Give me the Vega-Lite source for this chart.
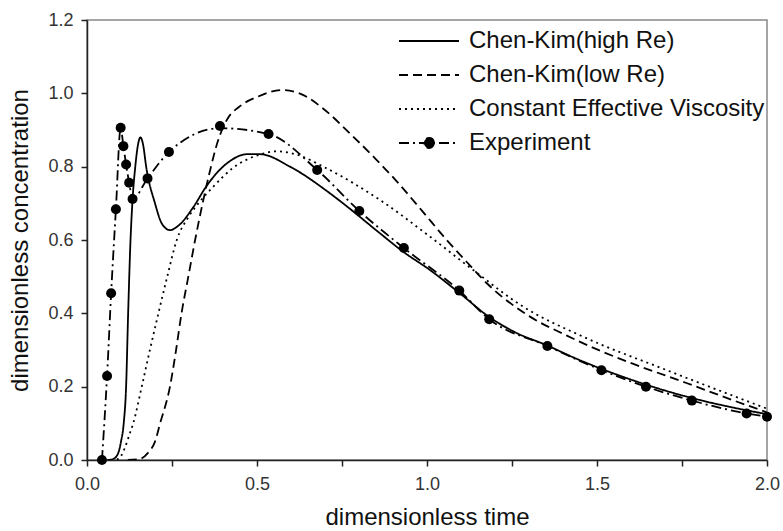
{
  "$schema": "https://vega.github.io/schema/vega-lite/v6.json",
  "width": 680,
  "height": 440,
  "autosize": "none",
  "padding": {"left": 87, "top": 20, "right": 16, "bottom": 71},
  "background": "white",
  "config": {
    "font": "Liberation Sans",
    "view": {"stroke": "#888", "strokeWidth": 1.5},
    "axis": {
      "domainColor": "#222",
      "domainWidth": 1.5,
      "tickColor": "#222",
      "tickWidth": 1.5,
      "tickSize": 6,
      "grid": false,
      "labelFont": "Liberation Sans",
      "labelFontSize": 18,
      "labelColor": "#333",
      "labelFlush": false,
      "labelOverlap": false,
      "titleFont": "Liberation Sans",
      "titleFontSize": 24,
      "titleFontWeight": "normal",
      "titleColor": "#111"
    }
  },
  "datasets": {
    "curves": [
      {"series": "Chen-Kim(high Re)", "t": 0.06, "c": 0},
      {"series": "Chen-Kim(high Re)", "t": 0.075, "c": 0.002},
      {"series": "Chen-Kim(high Re)", "t": 0.09, "c": 0.015},
      {"series": "Chen-Kim(high Re)", "t": 0.1, "c": 0.05},
      {"series": "Chen-Kim(high Re)", "t": 0.108, "c": 0.1},
      {"series": "Chen-Kim(high Re)", "t": 0.115, "c": 0.2},
      {"series": "Chen-Kim(high Re)", "t": 0.121, "c": 0.4},
      {"series": "Chen-Kim(high Re)", "t": 0.128, "c": 0.6},
      {"series": "Chen-Kim(high Re)", "t": 0.134, "c": 0.71},
      {"series": "Chen-Kim(high Re)", "t": 0.142, "c": 0.8},
      {"series": "Chen-Kim(high Re)", "t": 0.15, "c": 0.86},
      {"series": "Chen-Kim(high Re)", "t": 0.157, "c": 0.88},
      {"series": "Chen-Kim(high Re)", "t": 0.165, "c": 0.86},
      {"series": "Chen-Kim(high Re)", "t": 0.174, "c": 0.8},
      {"series": "Chen-Kim(high Re)", "t": 0.2, "c": 0.7},
      {"series": "Chen-Kim(high Re)", "t": 0.22, "c": 0.645},
      {"series": "Chen-Kim(high Re)", "t": 0.244, "c": 0.627},
      {"series": "Chen-Kim(high Re)", "t": 0.27, "c": 0.64},
      {"series": "Chen-Kim(high Re)", "t": 0.313, "c": 0.69},
      {"series": "Chen-Kim(high Re)", "t": 0.35, "c": 0.745},
      {"series": "Chen-Kim(high Re)", "t": 0.381, "c": 0.782},
      {"series": "Chen-Kim(high Re)", "t": 0.42, "c": 0.815},
      {"series": "Chen-Kim(high Re)", "t": 0.47, "c": 0.834},
      {"series": "Chen-Kim(high Re)", "t": 0.509, "c": 0.834},
      {"series": "Chen-Kim(high Re)", "t": 0.597, "c": 0.8},
      {"series": "Chen-Kim(high Re)", "t": 0.715, "c": 0.727},
      {"series": "Chen-Kim(high Re)", "t": 0.764, "c": 0.692},
      {"series": "Chen-Kim(high Re)", "t": 0.862, "c": 0.618},
      {"series": "Chen-Kim(high Re)", "t": 0.93, "c": 0.568},
      {"series": "Chen-Kim(high Re)", "t": 1.009, "c": 0.518},
      {"series": "Chen-Kim(high Re)", "t": 1.1, "c": 0.452},
      {"series": "Chen-Kim(high Re)", "t": 1.183, "c": 0.39},
      {"series": "Chen-Kim(high Re)", "t": 1.26, "c": 0.348},
      {"series": "Chen-Kim(high Re)", "t": 1.352, "c": 0.313},
      {"series": "Chen-Kim(high Re)", "t": 1.43, "c": 0.28},
      {"series": "Chen-Kim(high Re)", "t": 1.509, "c": 0.25},
      {"series": "Chen-Kim(high Re)", "t": 1.646, "c": 0.205},
      {"series": "Chen-Kim(high Re)", "t": 1.783, "c": 0.168},
      {"series": "Chen-Kim(high Re)", "t": 1.9, "c": 0.143},
      {"series": "Chen-Kim(high Re)", "t": 2.0, "c": 0.125},

      {"series": "Chen-Kim(low Re)", "t": 0.12, "c": 0},
      {"series": "Chen-Kim(low Re)", "t": 0.156, "c": 0.003},
      {"series": "Chen-Kim(low Re)", "t": 0.18, "c": 0.02},
      {"series": "Chen-Kim(low Re)", "t": 0.2, "c": 0.05},
      {"series": "Chen-Kim(low Re)", "t": 0.215, "c": 0.1},
      {"series": "Chen-Kim(low Re)", "t": 0.244, "c": 0.2},
      {"series": "Chen-Kim(low Re)", "t": 0.262, "c": 0.3},
      {"series": "Chen-Kim(low Re)", "t": 0.278, "c": 0.4},
      {"series": "Chen-Kim(low Re)", "t": 0.298, "c": 0.5},
      {"series": "Chen-Kim(low Re)", "t": 0.318, "c": 0.6},
      {"series": "Chen-Kim(low Re)", "t": 0.34, "c": 0.7},
      {"series": "Chen-Kim(low Re)", "t": 0.36, "c": 0.782},
      {"series": "Chen-Kim(low Re)", "t": 0.385, "c": 0.87},
      {"series": "Chen-Kim(low Re)", "t": 0.411, "c": 0.927},
      {"series": "Chen-Kim(low Re)", "t": 0.45, "c": 0.965},
      {"series": "Chen-Kim(low Re)", "t": 0.5, "c": 0.99},
      {"series": "Chen-Kim(low Re)", "t": 0.572, "c": 1.009},
      {"series": "Chen-Kim(low Re)", "t": 0.63, "c": 0.998},
      {"series": "Chen-Kim(low Re)", "t": 0.695, "c": 0.958},
      {"series": "Chen-Kim(low Re)", "t": 0.774, "c": 0.89},
      {"series": "Chen-Kim(low Re)", "t": 0.85, "c": 0.82},
      {"series": "Chen-Kim(low Re)", "t": 0.911, "c": 0.76},
      {"series": "Chen-Kim(low Re)", "t": 0.985, "c": 0.68},
      {"series": "Chen-Kim(low Re)", "t": 1.058, "c": 0.6},
      {"series": "Chen-Kim(low Re)", "t": 1.117, "c": 0.54},
      {"series": "Chen-Kim(low Re)", "t": 1.176, "c": 0.482},
      {"series": "Chen-Kim(low Re)", "t": 1.303, "c": 0.391},
      {"series": "Chen-Kim(low Re)", "t": 1.41, "c": 0.34},
      {"series": "Chen-Kim(low Re)", "t": 1.509, "c": 0.298},
      {"series": "Chen-Kim(low Re)", "t": 1.607, "c": 0.262},
      {"series": "Chen-Kim(low Re)", "t": 1.763, "c": 0.21},
      {"series": "Chen-Kim(low Re)", "t": 1.9, "c": 0.163},
      {"series": "Chen-Kim(low Re)", "t": 2.0, "c": 0.13},

      {"series": "Constant Effective Viscosity", "t": 0.07, "c": 0},
      {"series": "Constant Effective Viscosity", "t": 0.092, "c": 0.003},
      {"series": "Constant Effective Viscosity", "t": 0.11, "c": 0.03},
      {"series": "Constant Effective Viscosity", "t": 0.125, "c": 0.07},
      {"series": "Constant Effective Viscosity", "t": 0.136, "c": 0.1},
      {"series": "Constant Effective Viscosity", "t": 0.161, "c": 0.2},
      {"series": "Constant Effective Viscosity", "t": 0.185, "c": 0.3},
      {"series": "Constant Effective Viscosity", "t": 0.21, "c": 0.4},
      {"series": "Constant Effective Viscosity", "t": 0.236, "c": 0.5},
      {"series": "Constant Effective Viscosity", "t": 0.264, "c": 0.6},
      {"series": "Constant Effective Viscosity", "t": 0.3, "c": 0.665},
      {"series": "Constant Effective Viscosity", "t": 0.332, "c": 0.705},
      {"series": "Constant Effective Viscosity", "t": 0.371, "c": 0.745},
      {"series": "Constant Effective Viscosity", "t": 0.43, "c": 0.797},
      {"series": "Constant Effective Viscosity", "t": 0.509, "c": 0.833},
      {"series": "Constant Effective Viscosity", "t": 0.558, "c": 0.842},
      {"series": "Constant Effective Viscosity", "t": 0.62, "c": 0.832},
      {"series": "Constant Effective Viscosity", "t": 0.695, "c": 0.8},
      {"series": "Constant Effective Viscosity", "t": 0.862, "c": 0.709},
      {"series": "Constant Effective Viscosity", "t": 1.009, "c": 0.609},
      {"series": "Constant Effective Viscosity", "t": 1.136, "c": 0.518},
      {"series": "Constant Effective Viscosity", "t": 1.283, "c": 0.418},
      {"series": "Constant Effective Viscosity", "t": 1.46, "c": 0.336},
      {"series": "Constant Effective Viscosity", "t": 1.705, "c": 0.245},
      {"series": "Constant Effective Viscosity", "t": 2.0, "c": 0.14},

      {"series": "Experiment", "t": 0.044, "c": 0},
      {"series": "Experiment", "t": 0.059, "c": 0.229},
      {"series": "Experiment", "t": 0.071, "c": 0.455},
      {"series": "Experiment", "t": 0.085, "c": 0.684},
      {"series": "Experiment", "t": 0.099, "c": 0.906},
      {"series": "Experiment", "t": 0.107, "c": 0.856},
      {"series": "Experiment", "t": 0.115, "c": 0.806},
      {"series": "Experiment", "t": 0.124, "c": 0.756},
      {"series": "Experiment", "t": 0.134, "c": 0.712},
      {"series": "Experiment", "t": 0.178, "c": 0.768},
      {"series": "Experiment", "t": 0.241, "c": 0.84},
      {"series": "Experiment", "t": 0.391, "c": 0.905},
      {"series": "Experiment", "t": 0.534, "c": 0.889},
      {"series": "Experiment", "t": 0.677, "c": 0.791},
      {"series": "Experiment", "t": 0.801, "c": 0.679},
      {"series": "Experiment", "t": 0.932, "c": 0.578},
      {"series": "Experiment", "t": 1.095, "c": 0.462},
      {"series": "Experiment", "t": 1.183, "c": 0.384},
      {"series": "Experiment", "t": 1.354, "c": 0.311},
      {"series": "Experiment", "t": 1.513, "c": 0.245},
      {"series": "Experiment", "t": 1.644, "c": 0.2},
      {"series": "Experiment", "t": 1.779, "c": 0.162},
      {"series": "Experiment", "t": 1.94, "c": 0.127},
      {"series": "Experiment", "t": 2.0, "c": 0.118}
    ],
    "points": [
      {"t": 0.044, "c": 0},
      {"t": 0.059, "c": 0.229},
      {"t": 0.071, "c": 0.455},
      {"t": 0.085, "c": 0.684},
      {"t": 0.099, "c": 0.906},
      {"t": 0.107, "c": 0.856},
      {"t": 0.115, "c": 0.806},
      {"t": 0.124, "c": 0.756},
      {"t": 0.134, "c": 0.712},
      {"t": 0.178, "c": 0.768},
      {"t": 0.241, "c": 0.84},
      {"t": 0.391, "c": 0.911},
      {"t": 0.534, "c": 0.889},
      {"t": 0.677, "c": 0.791},
      {"t": 0.801, "c": 0.679},
      {"t": 0.932, "c": 0.578},
      {"t": 1.095, "c": 0.462},
      {"t": 1.183, "c": 0.384},
      {"t": 1.354, "c": 0.311},
      {"t": 1.513, "c": 0.245},
      {"t": 1.644, "c": 0.2},
      {"t": 1.779, "c": 0.162},
      {"t": 1.94, "c": 0.127},
      {"t": 2.0, "c": 0.118}
    ]
  },
  "layer": [
    {
      "data": {"name": "curves"},
      "mark": {"type": "line", "interpolate": "monotone", "strokeWidth": 1.8, "color": "black", "clip": true},
      "encoding": {
        "x": {
          "field": "t", "type": "quantitative",
          "scale": {"domain": [0, 2], "nice": false, "zero": false},
          "axis": {
            "title": "dimensionless time",
            "values": [0, 0.25, 0.5, 0.75, 1, 1.25, 1.5, 1.75, 2],
            "labelExpr": "round(datum.value*4) % 2 == 0 ? format(datum.value, '.1f') : ''",
            "labelPadding": 9,
            "titlePadding": 12
          }
        },
        "y": {
          "field": "c", "type": "quantitative",
          "scale": {"domain": [0, 1.2], "nice": false},
          "axis": {
            "title": "dimensionless concentration",
            "values": [0, 0.1, 0.2, 0.3, 0.4, 0.5, 0.6, 0.7, 0.8, 0.9, 1.0, 1.1, 1.2],
            "labelExpr": "round(datum.value*10) % 2 == 0 ? format(datum.value, '.1f') : ''",
            "labelPadding": 8,
            "titlePadding": 15
          }
        },
        "strokeDash": {
          "field": "series", "type": "nominal",
          "scale": {
            "domain": ["Chen-Kim(high Re)", "Chen-Kim(low Re)", "Constant Effective Viscosity", "Experiment"],
            "range": [[1, 0], [9, 5], [2, 4], [10, 4, 2, 4]]
          },
          "legend": {
            "title": null,
            "orient": "none",
            "legendX": 310,
            "legendY": 9,
            "labelFont": "Liberation Sans",
            "labelFontSize": 24,
            "labelColor": "#111",
            "labelLimit": 500,
            "symbolType": "stroke",
            "symbolSize": 400,
            "symbolStrokeWidth": 1.8,
            "symbolStrokeColor": "black",
            "labelOffset": 48,
            "rowPadding": 10,
            "encode": {
              "symbols": {
                "update": {
                  "shape": {"signal": "datum.value === 'Experiment' ? 'M-1,0L5,0M2.5,0A0.5,0.5,0,1,1,1.5,0A0.5,0.5,0,1,1,2.5,0Z' : 'M-1,0L5,0'"},
                  "fill": {"signal": "datum.value === 'Experiment' ? 'black' : 'transparent'"},
                  "stroke": {"value": "black"},
                  "strokeWidth": {"value": 1.8},
                  "strokeDash": {"scale": "strokeDash", "field": "value"},
                  "opacity": {"value": 1}
                }
              }
            }
          }
        }
      }
    },
    {
      "data": {"name": "points"},
      "mark": {"type": "point", "filled": true, "color": "black", "size": 100, "opacity": 1, "clip": false},
      "encoding": {
        "x": {"field": "t", "type": "quantitative"},
        "y": {"field": "c", "type": "quantitative"}
      }
    }
  ]
}
